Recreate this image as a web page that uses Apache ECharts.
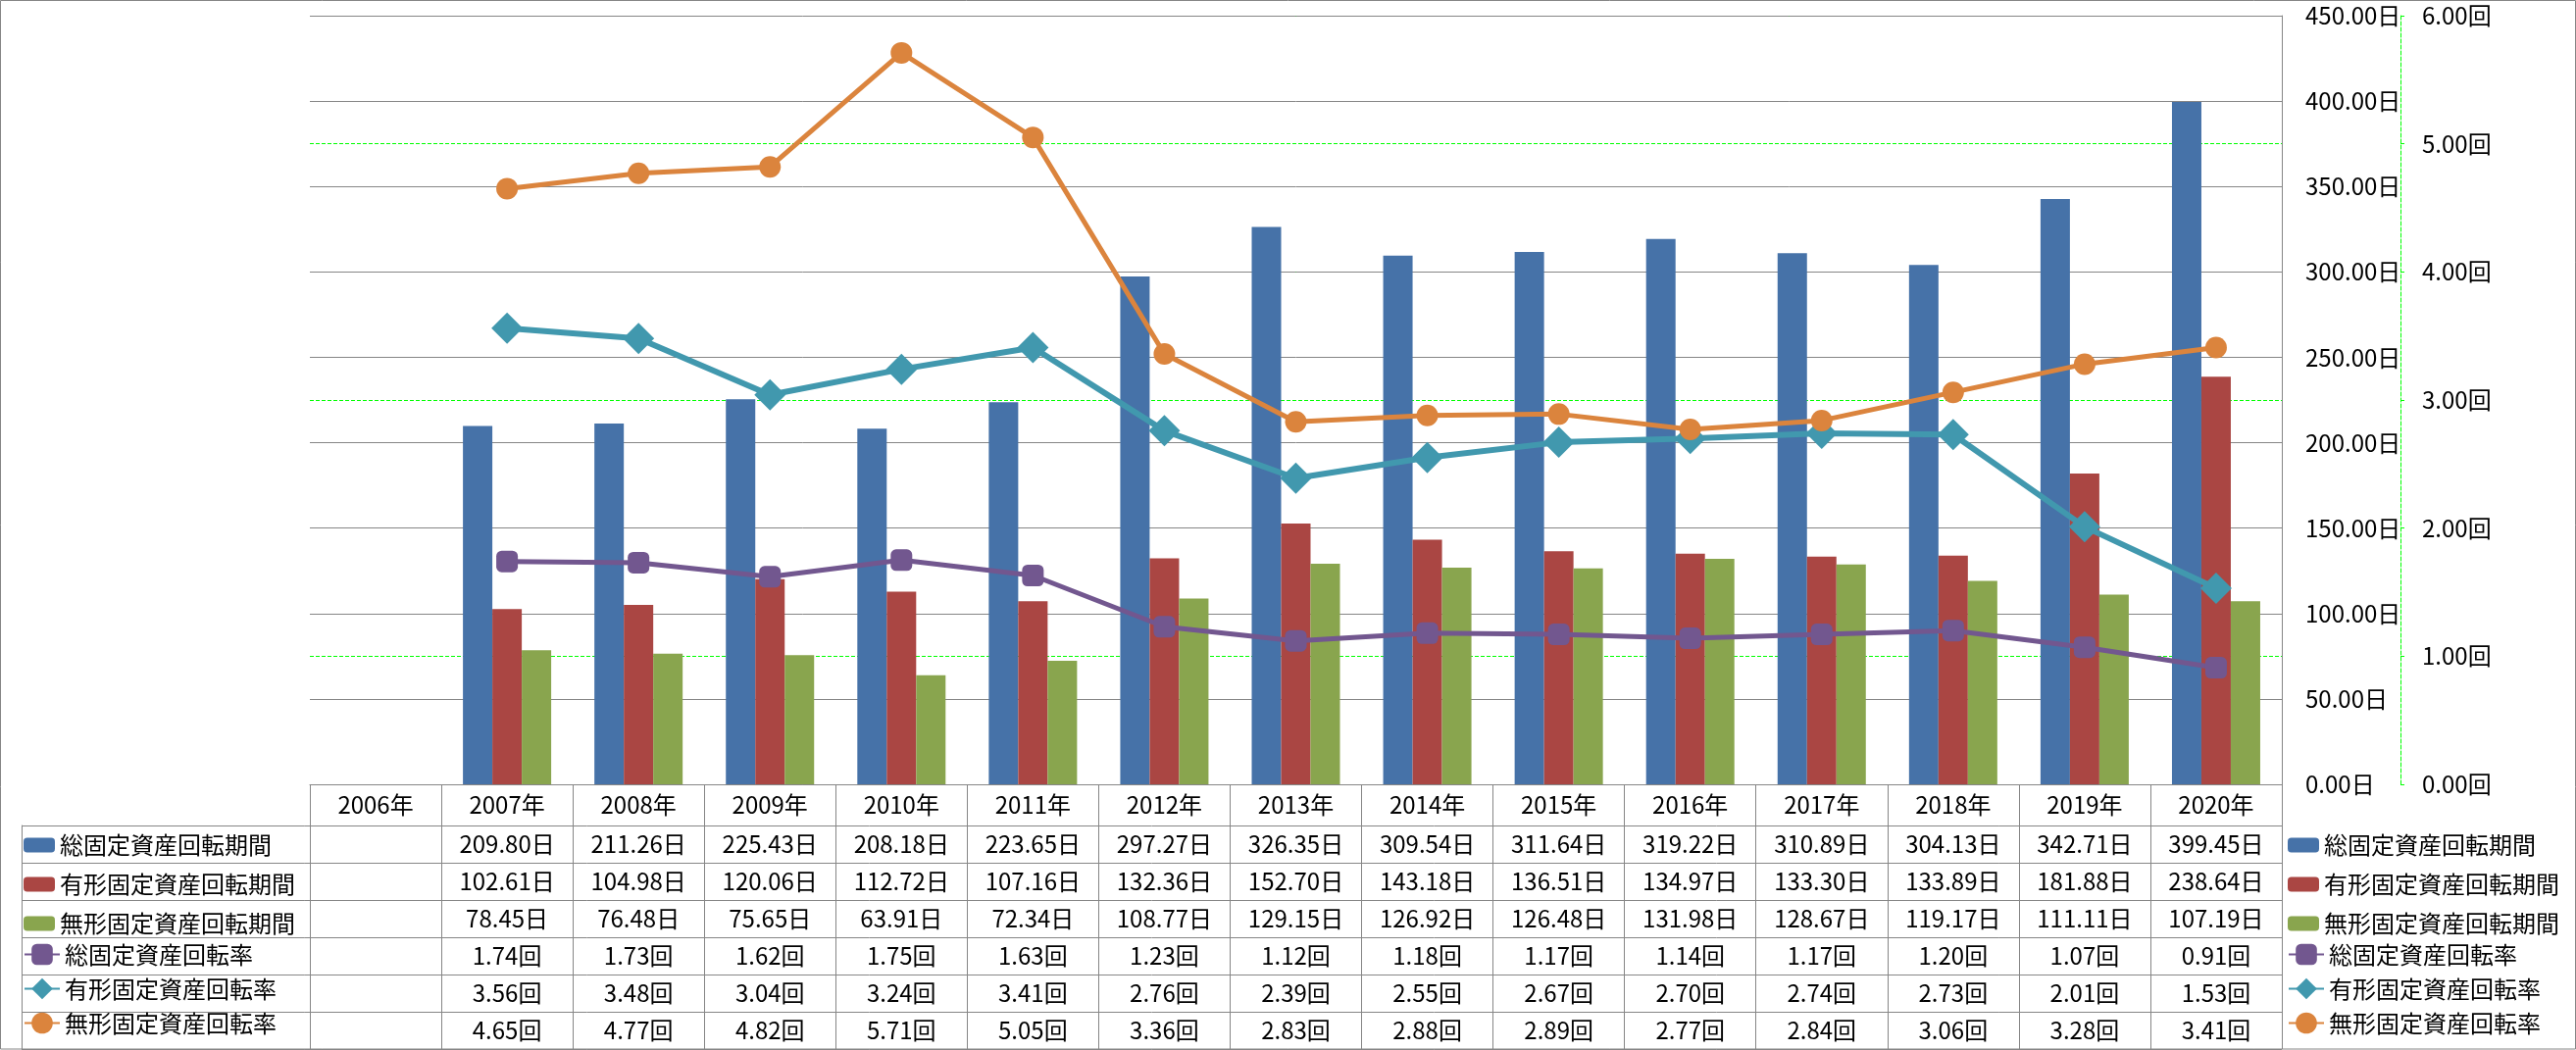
<!DOCTYPE html>
<html><head><meta charset="utf-8">
<script src="https://cdn.jsdelivr.net/npm/echarts@6/dist/echarts.min.js"></script>
<style>html,body{margin:0;padding:0;background:#fff}#c{width:2627px;height:1071px}</style>
</head><body><div id="c"></div>
<script>
const categories = ['2006年','2007年','2008年','2009年','2010年','2011年','2012年','2013年','2014年','2015年','2016年','2017年','2018年','2019年','2020年'];
const seriesNames = ['総固定資産回転期間','有形固定資産回転期間','無形固定資産回転期間','総固定資産回転率','有形固定資産回転率','無形固定資産回転率'];
const totalPeriod = [null,209.80,211.26,225.43,208.18,223.65,297.27,326.35,309.54,311.64,319.22,310.89,304.13,342.71,399.45];
const tangiblePeriod = [null,102.61,104.98,120.06,112.72,107.16,132.36,152.70,143.18,136.51,134.97,133.30,133.89,181.88,238.64];
const intangiblePeriod = [null,78.45,76.48,75.65,63.91,72.34,108.77,129.15,126.92,126.48,131.98,128.67,119.17,111.11,107.19];
const totalRate = [null,1.74,1.73,1.62,1.75,1.63,1.23,1.12,1.18,1.17,1.14,1.17,1.20,1.07,0.91];
const tangibleRate = [null,3.56,3.48,3.04,3.24,3.41,2.76,2.39,2.55,2.67,2.70,2.74,2.73,2.01,1.53];
const intangibleRate = [null,4.65,4.77,4.82,5.71,5.05,3.36,2.83,2.88,2.89,2.77,2.84,3.06,3.28,3.41];
const dayUnit = '日';
const rateUnit = '回';

const FONT = 'Noto Sans CJK JP';
const FS = 24;
const GRAY = '#868686';
const GREEN = '#00ff00';
const colors = ['#4672a8','#aa4643','#89a54e','#72578f','#4198ae','#db843d'];

const rows = [
  {data: totalPeriod, unit: dayUnit},
  {data: tangiblePeriod, unit: dayUnit},
  {data: intangiblePeriod, unit: dayUnit},
  {data: totalRate, unit: rateUnit},
  {data: tangibleRate, unit: rateUnit},
  {data: intangibleRate, unit: rateUnit}
];

const chart = echarts.init(document.getElementById('c'), null, {renderer:'canvas'});

const tableAxes = rows.map((r, i) => ({
  type: 'category', gridIndex: 0, position: 'bottom', data: categories,
  offset: 42 + 38 * i,
  axisLine: {show: false}, axisTick: {show: false}, splitLine: {show: false},
  axisLabel: {
    interval: 0, margin: 7, color: '#000', fontFamily: FONT, fontSize: FS, lineHeight: FS,
    formatter: (v, idx) => r.data[idx] == null ? '' : r.data[idx].toFixed(2) + r.unit
  }
}));

const legendText = {color: '#000', fontFamily: FONT, fontSize: FS, lineHeight: 22};
const barNames = seriesNames.slice(0, 3);
const lineNames = seriesNames.slice(3);
function legendPair(left) {
  return [
    {orient: 'vertical', left: left, top: 850, height: 130, padding: 0, itemGap: 16, itemWidth: 32, itemHeight: 15,
     textStyle: legendText, data: barNames, selectedMode: false},
    {orient: 'vertical', left: left, top: 961.5, height: 130, padding: 0, itemGap: 11, itemWidth: 36, itemHeight: 27,
     textStyle: legendText, data: lineNames, selectedMode: false}
  ];
}

chart.setOption({
  animation: false,
  color: colors,
  textStyle: {fontFamily: FONT},
  grid: [
    {left: 316, right: 300, top: 16, bottom: 271, containLabel: false},
    {left: 22, right: 300, top: 842, bottom: 1, containLabel: false}
  ],
  legend: [...legendPair(24), ...legendPair(2333)],
  xAxis: [
    {type: 'category', gridIndex: 0, data: categories, position: 'bottom',
     axisLine: {show: true, lineStyle: {color: GRAY, width: 1}},
     axisTick: {show: true, interval: 0, length: 270, lineStyle: {color: GRAY, width: 1}},
     axisLabel: {interval: 0, margin: 9, color: '#000', fontFamily: FONT, fontSize: FS, lineHeight: FS},
     splitLine: {show: false}},
    ...tableAxes,
    {type: 'value', gridIndex: 1, show: false}
  ],
  yAxis: [
    {type: 'value', gridIndex: 0, position: 'right', min: 0, max: 450, interval: 50, z: 1,
     axisLine: {show: true, lineStyle: {color: GRAY, width: 1}},
     axisTick: {show: false},
     axisLabel: {margin: 24, color: '#000', fontFamily: FONT, fontSize: FS, formatter: v => v.toFixed(2) + dayUnit},
     splitLine: {show: true, lineStyle: {color: GRAY, width: 1}}},
    {type: 'value', gridIndex: 0, position: 'right', offset: 121, min: 0, max: 6, interval: 1, z: 0,
     axisLine: {show: true, lineStyle: {color: GREEN, width: 1, type: [4, 2]}},
     axisTick: {show: true, length: 4, lineStyle: {color: GREEN, width: 1}},
     axisLabel: {margin: 22, color: '#000', fontFamily: FONT, fontSize: FS, formatter: v => v.toFixed(2) + rateUnit},
     splitLine: {show: true, lineStyle: {color: GREEN, width: 1, type: [4, 2]}}},
    {type: 'category', gridIndex: 1, inverse: true, data: seriesNames, position: 'left',
     axisLine: {show: true, lineStyle: {color: GRAY, width: 1}},
     axisTick: {show: false}, axisLabel: {show: false},
     splitLine: {show: true, interval: 0, lineStyle: {color: GRAY, width: 1}}}
  ],
  series: [
    {name: seriesNames[0], type: 'bar', xAxisIndex: 0, yAxisIndex: 0, data: totalPeriod, barWidth: 30, barGap: '0%'},
    {name: seriesNames[1], type: 'bar', xAxisIndex: 0, yAxisIndex: 0, data: tangiblePeriod, barWidth: 30, barGap: '0%'},
    {name: seriesNames[2], type: 'bar', xAxisIndex: 0, yAxisIndex: 0, data: intangiblePeriod, barWidth: 30, barGap: '0%'},
    {name: seriesNames[3], type: 'line', xAxisIndex: 0, yAxisIndex: 1, data: totalRate, symbol: 'roundRect', symbolSize: 22,
     lineStyle: {width: 5}, z: 3},
    {name: seriesNames[4], type: 'line', xAxisIndex: 0, yAxisIndex: 1, data: tangibleRate, symbol: 'diamond', symbolSize: [32, 32],
     lineStyle: {width: 6}, z: 3},
    {name: seriesNames[5], type: 'line', xAxisIndex: 0, yAxisIndex: 1, data: intangibleRate, symbol: 'circle', symbolSize: 22,
     lineStyle: {width: 5}, z: 3}
  ],
  graphic: [
    {type: 'rect', silent: true, z: 100, shape: {x: 0.5, y: 0.5, width: 2626, height: 1069.5},
     style: {fill: null, stroke: GRAY, lineWidth: 1}}
  ]
});
</script>
</body></html>
